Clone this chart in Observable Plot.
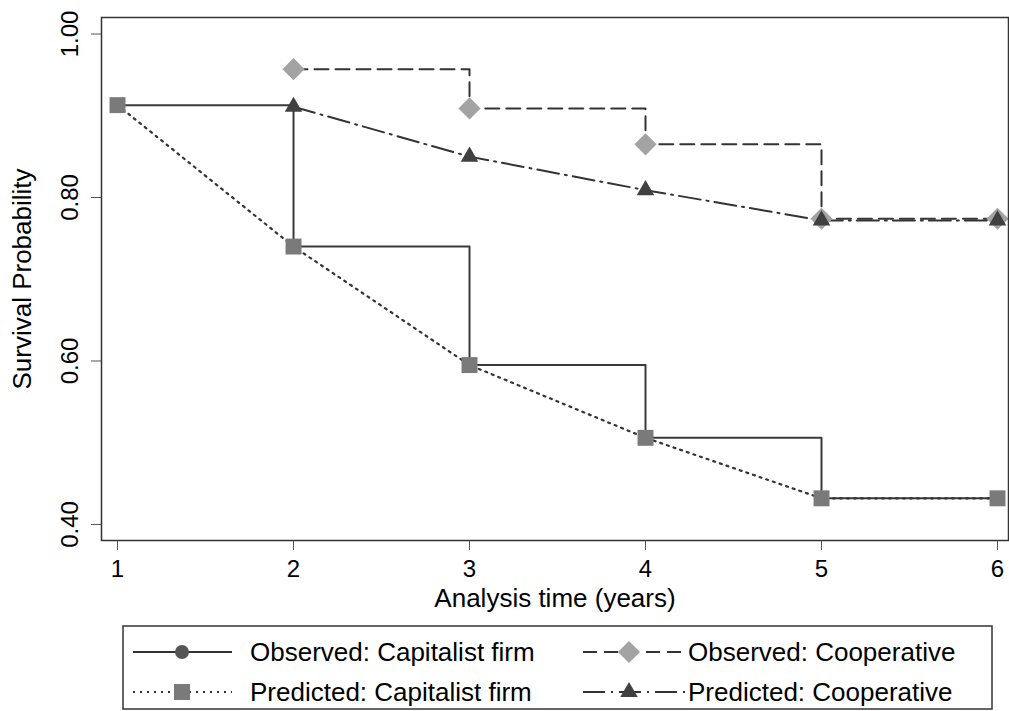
<!DOCTYPE html>
<html>
<head>
<meta charset="utf-8">
<script src="https://cdn.jsdelivr.net/npm/d3@7"></script>
<script src="https://cdn.jsdelivr.net/npm/@observablehq/plot@0.6"></script>
<style>
  html, body { margin: 0; padding: 0; background: #fff; }
  #chart svg { display: block; }
</style>
</head>
<body>
<div id="chart"></div>
<script>
// ---- Data ----
const years = [1, 2, 3, 4, 5, 6];
const observedCapitalist = [0.913, 0.740, 0.595, 0.506, 0.432, 0.432];
const predictedCapitalist = [0.913, 0.740, 0.595, 0.506, 0.432, 0.432];
const coopYears = [2, 3, 4, 5, 6];
const observedCooperative = [0.957, 0.909, 0.865, 0.774, 0.774];
const predictedCooperative = [0.911, 0.850, 0.809, 0.772, 0.772];
const xTicks = [1, 2, 3, 4, 5, 6];
const yTicks = [0.40, 0.60, 0.80, 1.00];
const seriesNames = ["Observed: Capitalist firm", "Predicted: Capitalist firm", "Observed: Cooperative", "Predicted: Cooperative"];

const obsCap = years.map((x, i) => ({x, y: observedCapitalist[i]}));
const predCap = years.map((x, i) => ({x, y: predictedCapitalist[i]}));
const obsCoop = coopYears.map((x, i) => ({x, y: observedCooperative[i]}));
const predCoop = coopYears.map((x, i) => ({x, y: predictedCooperative[i]}));

// ---- Styles ----
const FONT = "'Liberation Sans', Arial, sans-serif";
const lineDark = "#3a3a3a";
const circleFill = "#555555";
const squareFill = "#7a7a7a";
const diamondFill = "#a3a3a3";
const triangleFill = "#404040";
const dotted = "2,5";
const dashed = "14,7";
const dashDot = "22,6,2,6";
const R = {circle: 7, square: 9, diamond2: 10, triangle: 6.5};

const W = 1009, H = 618;
const plot = Plot.plot({
  width: W,
  height: H,
  marginTop: 17,
  marginLeft: 101,
  marginRight: 1,
  marginBottom: H - 540,
  style: {fontFamily: FONT, fontSize: "24px", color: "#000", background: "#fff"},
  x: {domain: [0.909, 6.0625]},
  y: {domain: [0.3804, 1.0202]},
  marks: [
    Plot.axisX({ticks: xTicks, tickSize: 10, tickPadding: 9, fontSize: 24, label: null, stroke: "#555", tickFormat: d => String(d)}),
    Plot.axisY({ticks: yTicks, tickSize: 10, tickFormat: () => "", label: null, stroke: "#555"}),
    Plot.text(yTicks, {y: d => d, text: d => d.toFixed(2), frameAnchor: "left", dx: -31, rotate: -90, textAnchor: "middle", lineAnchor: "middle", fontSize: 24, fill: "#000"}),
    Plot.text(["Survival Probability"], {frameAnchor: "left", dx: -79, rotate: -90, textAnchor: "middle", lineAnchor: "middle", fontSize: 26, fill: "#000"}),
    Plot.text(["Analysis time (years)"], {frameAnchor: "bottom", dy: 58, textAnchor: "middle", lineAnchor: "middle", fontSize: 26, fill: "#000"}),
    // lines
    Plot.line(obsCap, {x: "x", y: "y", curve: "step-after", stroke: lineDark, strokeWidth: 2}),
    Plot.line(predCap, {x: "x", y: "y", stroke: "#333", strokeWidth: 2.2, strokeDasharray: dotted}),
    Plot.line(obsCoop, {x: "x", y: "y", curve: "step-after", stroke: "#333", strokeWidth: 2, strokeDasharray: dashed}),
    Plot.line(predCoop, {x: "x", y: "y", stroke: "#333", strokeWidth: 2, strokeDasharray: dashDot}),
    // markers
    Plot.dot(obsCap, {x: "x", y: "y", symbol: "circle", r: R.circle, fill: circleFill}),
    Plot.dot(predCap, {x: "x", y: "y", symbol: "square", r: R.square, fill: squareFill}),
    Plot.dot(obsCoop, {x: "x", y: "y", symbol: "diamond2", r: R.diamond2, fill: diamondFill}),
    Plot.dot(predCoop, {x: "x", y: "y", symbol: "triangle", r: R.triangle, fill: triangleFill}),
    Plot.frame({stroke: "#333", strokeWidth: 1.5})
  ]
});
document.getElementById("chart").appendChild(plot);

// ---- Legend (below the plot SVG) ----
const LH = 711 - H;
const leg = d3.select("#chart").append("svg")
  .attr("width", W).attr("height", LH)
  .attr("font-family", FONT);
leg.append("rect").attr("x", 123).attr("y", 8).attr("width", 869).attr("height", LH - 10)
  .attr("fill", "none").attr("stroke", "#333").attr("stroke-width", 1.5);

const symbolMap = {circle: d3.symbolCircle, square: d3.symbolSquare, diamond2: d3.symbolDiamond2, triangle: d3.symbolTriangle};
const items = [
  {name: seriesNames[0], col: 0, row: 0, dash: null, width: 2, sym: "circle", fill: circleFill},
  {name: seriesNames[1], col: 0, row: 1, dash: dotted, width: 2.2, sym: "square", fill: squareFill},
  {name: seriesNames[2], col: 1, row: 0, dash: dashed, width: 2, sym: "diamond2", fill: diamondFill},
  {name: seriesNames[3], col: 1, row: 1, dash: dashDot, width: 2, sym: "triangle", fill: triangleFill}
];
const cols = [{x0: 133, x1: 232, xm: 182, tx: 250}, {x0: 583, x1: 687, xm: 629, tx: 688}];
const rows = [34, 74];
items.forEach(it => {
  const c = cols[it.col], y = rows[it.row];
  const g = leg.append("g");
  g.append("line").attr("x1", c.x0).attr("x2", c.x1).attr("y1", y).attr("y2", y)
    .attr("stroke", "#333").attr("stroke-width", it.width)
    .attr("stroke-dasharray", it.dash);
  const r = R[it.sym];
  g.append("path").attr("transform", `translate(${c.xm},${y})`)
    .attr("d", d3.symbol(symbolMap[it.sym], Math.PI * r * r)())
    .attr("fill", it.fill);
  g.append("text").attr("x", c.tx).attr("y", y).attr("dy", "0.35em")
    .attr("font-size", 26).attr("fill", "#000").text(it.name);
});
</script>
</body>
</html>
